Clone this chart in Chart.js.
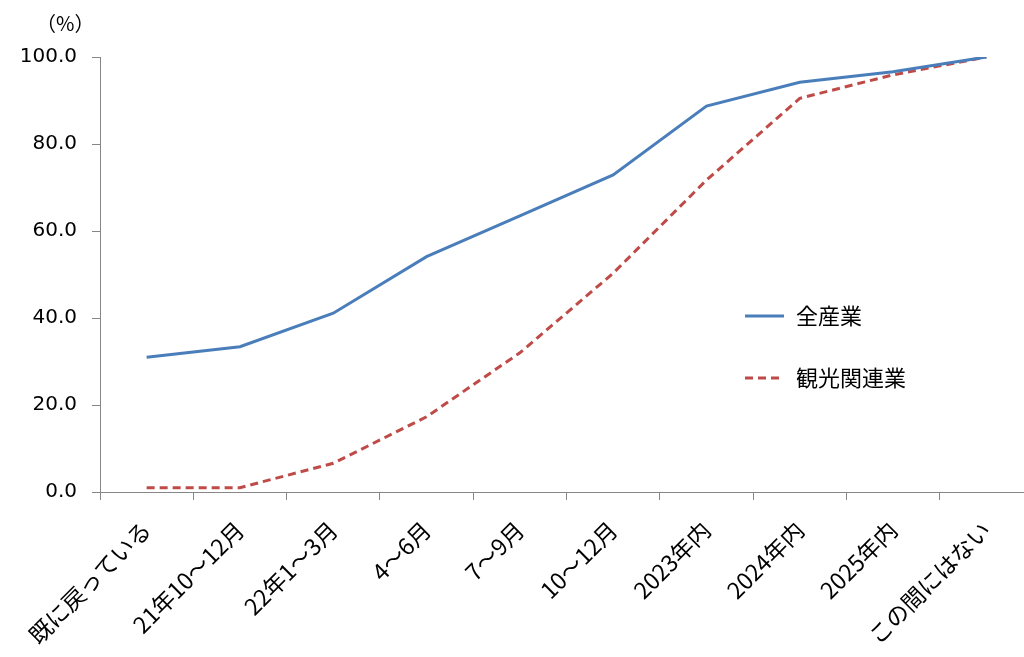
<!DOCTYPE html>
<html>
<head>
<meta charset="utf-8">
<script src="https://cdn.jsdelivr.net/npm/chart.js@4.4.0/dist/chart.umd.min.js"></script>
<style>
    html, body { margin: 0; padding: 0; background: #fff; overflow: hidden; }
    #wrap { width: 1024px; height: 657px; overflow: hidden; }
    #box { width: 1040px; height: 657px; }
</style>
</head>
<body>
<div id="wrap"><div id="box"><canvas id="grafico"></canvas></div></div>
<script>
// dados
const categorias = ['既に戻っている', '21年10～12月', '22年1～3月', '4～6月', '7～9月', '10～12月', '2023年内', '2024年内', '2025年内', 'この間にはない'];
const zenSangyo = [31.0, 33.4, 41.1, 54.1, 63.5, 72.9, 88.7, 94.2, 96.6, 100.0];
const kankoKanren = [1.0, 1.0, 6.6, 17.3, 32.0, 50.3, 71.7, 90.5, 95.9, 100.0];
const yTicks = [0, 20, 40, 60, 80, 100];
const unidade = '（%）';

const FONTE = "'Noto Sans CJK JP', 'Noto Sans', sans-serif";
const FONTE_NUM = "'DejaVu Sans', 'Noto Sans CJK JP', sans-serif";
const AZUL = '#4a7ebb';
const VERMELHO = '#be4b48';
const EIXO = '#878787';

// legenda + unidade desenhadas dentro do canvas
const legendaPlugin = {
    id: 'legenda',
    afterDraw(chart) {
        const ctx = chart.ctx;
        ctx.save();
        ctx.fillStyle = '#000';
        ctx.font = '20px ' + FONTE;
        ctx.textAlign = 'left';
        ctx.textBaseline = 'middle';
        ctx.fillText(unidade, 36, 23);

        const itens = [
            { texto: '全産業', cor: AZUL, dash: [], y: 316 },
            { texto: '観光関連業', cor: VERMELHO, dash: [8, 5], y: 378 }
        ];
        itens.forEach(function (it) {
            ctx.beginPath();
            ctx.setLineDash(it.dash);
            ctx.strokeStyle = it.cor;
            ctx.lineWidth = 3;
            ctx.moveTo(745, it.y);
            ctx.lineTo(784, it.y);
            ctx.stroke();
            ctx.setLineDash([]);
            ctx.font = '22px ' + FONTE;
            ctx.fillStyle = '#000';
            ctx.fillText(it.texto, 796, it.y);
        });
        ctx.restore();
    }
};

new Chart(document.getElementById('grafico'), {
    type: 'line',
    data: {
        labels: categorias,
        datasets: [{
            label: '全産業',
            data: zenSangyo,
            borderColor: AZUL,
            borderWidth: 3,
            pointRadius: 0,
            tension: 0,
            fill: false
        }, {
            label: '観光関連業',
            data: kankoKanren,
            borderColor: VERMELHO,
            borderWidth: 3,
            borderDash: [8, 5],
            pointRadius: 0,
            tension: 0,
            fill: false
        }]
    },
    options: {
        responsive: true,
        maintainAspectRatio: false,
        animation: false,
        events: [],
        layout: {
            padding: { top: 57, right: 7, left: 0, bottom: 0 }
        },
        scales: {
            x: {
                offset: true,
                grid: {
                    offset: true,
                    drawOnChartArea: false,
                    drawTicks: true,
                    tickLength: 8,
                    color: EIXO
                },
                border: { color: EIXO, width: 1 },
                ticks: {
                    color: '#000',
                    maxRotation: 45,
                    minRotation: 45,
                    autoSkip: false,
                    padding: 16,
                    font: { family: FONTE, size: 23 }
                },
                afterFit(scale) {
                    scale.height = 165;
                    scale.paddingLeft = 0;
                    scale.paddingRight = 0;
                }
            },
            y: {
                min: 0,
                max: 100,
                afterBuildTicks(scale) {
                    scale.ticks = yTicks.map(function (v) { return { value: v }; });
                },
                grid: {
                    drawOnChartArea: false,
                    drawTicks: true,
                    tickLength: 8,
                    color: EIXO
                },
                border: { color: EIXO, width: 1 },
                ticks: {
                    color: '#000',
                    padding: 15,
                    font: { family: FONTE_NUM, size: 20 },
                    callback: function (v) { return Number(v).toFixed(1); }
                },
                afterFit(scale) {
                    scale.width = 100;
                    scale.paddingTop = 0;
                    scale.paddingBottom = 0;
                }
            }
        },
        plugins: {
            legend: { display: false },
            tooltip: { enabled: false }
        }
    },
    plugins: [legendaPlugin]
});
</script>
</body>
</html>
